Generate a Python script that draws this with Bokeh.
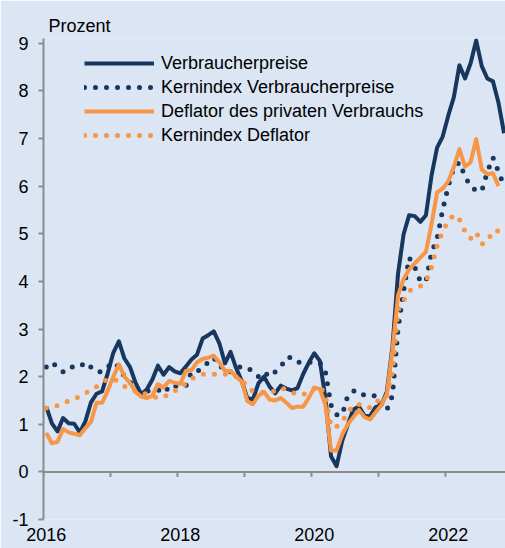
from bokeh.plotting import figure
from bokeh.models import Range1d, FixedTicker, Span, CustomJSTickFormatter
from bokeh.embed import file_html
from bokeh.resources import INLINE

# ---------------- data (monthly, y/y in %) ----------------
START_YEAR = 2016  # first value = January 2016

verbraucherpreise = [
    1.37, 1.02, 0.85, 1.13, 1.02, 1.01, 0.83, 1.06, 1.46, 1.64, 1.69, 2.07,
    2.50, 2.74, 2.38, 2.20, 1.87, 1.63, 1.73, 1.94, 2.23, 2.04, 2.20, 2.11,
    2.07, 2.21, 2.36, 2.46, 2.80, 2.87, 2.95, 2.70, 2.28, 2.52, 2.18, 1.91,
    1.55, 1.52, 1.86, 2.00, 1.79, 1.65, 1.81, 1.75, 1.71, 1.76, 2.05, 2.29,
    2.49, 2.33, 1.54, 0.33, 0.12, 0.65, 0.99, 1.31, 1.37, 1.18, 1.17, 1.36,
    1.40, 1.68, 2.62, 4.16, 4.99, 5.39, 5.37, 5.25, 5.39, 6.22, 6.81, 7.04,
    7.48, 7.87, 8.54, 8.26, 8.58, 9.06, 8.52, 8.26, 8.20, 7.75, 7.11,
]
kern_verbraucherpreise = [
    2.2, 2.3, 2.2, 2.1, 2.2, 2.2, 2.2, 2.3, 2.2, 2.1, 2.1, 2.2,
    2.3, 2.2, 2.0, 1.9, 1.7, 1.7, 1.7, 1.7, 1.7, 1.8, 1.7, 1.8,
    1.8, 1.8, 2.1, 2.1, 2.2, 2.3, 2.4, 2.2, 2.2, 2.1, 2.2, 2.2,
    2.2, 2.1, 2.0, 2.1, 2.0, 2.1, 2.2, 2.4, 2.4, 2.3, 2.3, 2.3,
    2.3, 2.3, 2.1, 1.4, 1.2, 1.2, 1.6, 1.7, 1.7, 1.6, 1.6, 1.6,
    1.4, 1.3, 1.6, 3.0, 3.8, 4.5, 4.3, 4.0, 4.0, 4.6, 4.9, 5.5,
    6.0, 6.4, 6.5, 6.2, 6.0, 5.9, 5.9, 6.3, 6.6, 6.3, 6.0,
]
deflator = [
    0.82, 0.60, 0.63, 0.90, 0.83, 0.80, 0.77, 0.92, 1.05, 1.45, 1.45, 1.70,
    2.00, 2.26, 2.00, 1.87, 1.68, 1.58, 1.55, 1.60, 1.84, 1.77, 1.91, 1.87,
    1.85, 2.12, 2.14, 2.30, 2.37, 2.40, 2.44, 2.30, 2.12, 2.12, 2.00, 1.90,
    1.49, 1.42, 1.60, 1.68, 1.52, 1.50, 1.55, 1.45, 1.34, 1.37, 1.37, 1.55,
    1.77, 1.74, 1.40, 0.45, 0.45, 0.78, 1.00, 1.15, 1.30, 1.15, 1.10, 1.25,
    1.40, 1.63, 2.55, 3.70, 4.05, 4.25, 4.38, 4.50, 4.62, 5.20, 5.87, 5.95,
    6.10, 6.40, 6.78, 6.41, 6.50, 6.99, 6.35, 6.25, 6.27, 6.00,
]
kern_deflator = [
    1.34, 1.36, 1.39, 1.44, 1.49, 1.54, 1.58, 1.65, 1.72, 1.79, 1.87, 1.95,
    1.95, 1.90, 1.80, 1.73, 1.70, 1.69, 1.62, 1.58, 1.56, 1.56, 1.65, 1.70,
    1.75, 1.86, 1.96, 2.00, 2.05, 2.05, 2.05, 2.05, 2.05, 2.05, 2.00, 1.95,
    1.77, 1.70, 1.67, 1.67, 1.67, 1.70, 1.76, 1.73, 1.68, 1.62, 1.62, 1.68,
    1.75, 1.80, 1.60, 0.95, 0.95, 1.05, 1.25, 1.40, 1.42, 1.36, 1.35, 1.48,
    1.50, 1.60, 2.10, 3.40, 3.60, 3.80, 3.85, 3.90, 4.00, 4.30, 4.75, 5.05,
    5.27, 5.40, 5.30, 5.05, 4.90, 5.03, 4.78, 4.84, 5.06, 5.06,
]

series_names = [
    "Verbraucherpreise",
    "Kernindex Verbraucherpreise",
    "Deflator des privaten Verbrauchs",
    "Kernindex Deflator",
]
year_ticks = [2016, 2017, 2018, 2019, 2020, 2021, 2022]
year_labels = [2016, 2018, 2020, 2022]
y_ticks = [-1, 0, 1, 2, 3, 4, 5, 6, 7, 8, 9]
y_axis_title = "Prozent"


def month_positions(n):
    return [START_YEAR + (i + 0.5) / 12 for i in range(n)]


# ---------------- styling ----------------
BG = "#dbe5f4"
NAVY = "#17375e"
ORANGE = "#f79646"
GRAY = "#8c8c8c"
FONT = "Liberation Sans"
FS = "18px"

p = figure(
    width=505, height=548,
    output_backend="svg", toolbar_location=None,
    x_range=Range1d(2016, 2022.896), y_range=Range1d(-1, 9.1),
    min_border_left=43, min_border_right=0, min_border_top=38, min_border_bottom=29,
    background_fill_color=BG, border_fill_color=BG,
    outline_line_color=None,
)
p.xgrid.visible = False
p.ygrid.visible = False

p.title.text = y_axis_title
p.title.text_font = FONT
p.title.text_font_size = FS
p.title.text_font_style = "normal"
p.title.text_color = "#000000"
p.title.align = "left"
p.title.offset = 5
p.title.standoff = 6

# y axis
yax = p.yaxis[0]
yax.ticker = FixedTicker(ticks=y_ticks)
yax.formatter = CustomJSTickFormatter(code="return tick.toFixed(0);")
yax.axis_line_color = GRAY
yax.axis_line_width = 2
yax.major_tick_line_color = GRAY
yax.major_tick_line_width = 2
yax.major_tick_in = 0
yax.major_tick_out = 5
yax.minor_tick_line_color = None
yax.major_label_text_font = FONT
yax.major_label_text_font_size = FS
yax.major_label_text_color = "#000000"
yax.major_label_standoff = 10

# x axis: labels only at the bottom
xax = p.xaxis[0]
xax.ticker = FixedTicker(ticks=[y + 0.5 / 12 for y in year_labels])
xax.formatter = CustomJSTickFormatter(code="return Math.floor(tick).toString();")
xax.axis_line_color = None
xax.major_tick_line_color = None
xax.minor_tick_line_color = None
xax.major_tick_in = 0
xax.major_tick_out = 0
xax.major_label_text_font = FONT
xax.major_label_text_font_size = FS
xax.major_label_text_color = "#000000"
xax.major_label_standoff = 8

# zero line with yearly tick marks (the horizontal axis line)
p.add_layout(Span(location=0, dimension="width", line_color=GRAY, line_width=2))
p.segment(x0=year_ticks, y0=[0] * len(year_ticks),
          x1=year_ticks, y1=[-0.105] * len(year_ticks),
          line_color=GRAY, line_width=2)

x_cpi = month_positions(len(verbraucherpreise))
x_core_cpi = month_positions(len(kern_verbraucherpreise))
x_pce = month_positions(len(deflator))
x_core_pce = month_positions(len(kern_deflator))

p.line(x_cpi, verbraucherpreise, line_color=NAVY, line_width=4,
       line_join="round", legend_label=series_names[0])
p.line(x_core_cpi, kern_verbraucherpreise, line_color=NAVY, line_width=5,
       line_dash="0 11", line_cap="round", legend_label=series_names[1])
p.line(x_pce, deflator, line_color=ORANGE, line_width=4,
       line_join="round", legend_label=series_names[2])
p.line(x_core_pce, kern_deflator, line_color=ORANGE, line_width=5,
       line_dash="0 11", line_cap="round", legend_label=series_names[3])

leg = p.legend[0]
leg.location = (41, 372)
leg.background_fill_alpha = 0
leg.border_line_alpha = 0
leg.padding = 0
leg.margin = 0
leg.spacing = 0
leg.glyph_width = 70
leg.glyph_height = 24
leg.label_height = 24
leg.label_standoff = 7
leg.label_text_font = FONT
leg.label_text_font_size = FS
leg.label_text_color = "#000000"

html = file_html(p, INLINE)
html = html.replace("<body>", '<body style="background-color:%s;">' % BG, 1)
open("out.html", "w").write(html)
